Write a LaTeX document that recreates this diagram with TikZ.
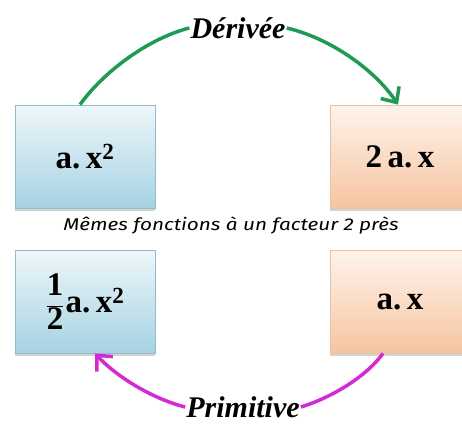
\documentclass[tikz,border=0pt]{standalone}
\usepackage{fontspec}
\setmainfont{Liberation Serif}
\newfontfamily\notefont{Fira Sans}
\usetikzlibrary{positioning,arrows.meta,shadows}

\definecolor{derivgreen}{HTML}{1E9A55}
\definecolor{primmag}{HTML}{D42AD4}
\definecolor{bluetop}{HTML}{EEF7FA}
\definecolor{bluebot}{HTML}{A6D2E2}
\definecolor{blueedge}{HTML}{8FBCCC}
\definecolor{orangetop}{HTML}{FEF4EC}
\definecolor{orangebot}{HTML}{F6C4A0}
\definecolor{orangeedge}{HTML}{E9C3A6}

\begin{document}
\begin{tikzpicture}[
  x=1pt, y=-1pt,
  fbox/.style={draw,line width=0.8pt,minimum width=140pt,minimum height=103pt,
    font=\fontsize{33}{36}\selectfont\bfseries,
    drop shadow={shadow xshift=0pt,shadow yshift=-3pt,opacity=0.35,fill=gray}},
  bluebox/.style={fbox,draw=blueedge,top color=bluetop,bottom color=bluebot},
  orangebox/.style={fbox,draw=orangeedge,top color=orangetop,bottom color=orangebot},
  arclabel/.style={font=\fontsize{30}{32}\selectfont\bfseries\itshape,inner sep=1pt},
  deriv/.style={draw=derivgreen,line width=3.5pt},
  prim/.style={draw=primmag,line width=3.5pt},
  >={Straight Barb[length=12pt,width=22pt,line width=3.5pt]}
]
  \useasboundingbox (0,0) rectangle (462,423);
  \clip (0,0) rectangle (462,423);
  % the four boxes
  \node[bluebox]   (ax2)     at (85,156.5)  {a.\,x$^{\mathbf{2}}$};
  \node[orangebox] (twoax)   at (400,156.5) {2\,a.\,x};
  \node[bluebox]   (halfax2) at (85,301.5)
    {$\displaystyle\mathbf{\frac{1}{2}}$\kern1pt a.\,x$^{\mathbf{2}}$};
  \node[orangebox] (ax)      at (400,301.5) {a.\,x};
  \node[font=\notefont\itshape\fontsize{17}{19}\selectfont] (note) at (231,226)
    {\scalebox{1.22}[1]{Mêmes fonctions à un facteur 2 près}};
  % arcs
  \node[arclabel] (der) at (238,28) {Dérivée};
  \node[arclabel] (pri) at (243,407) {Primitive};
  \draw[deriv] ([xshift=-5pt]ax2.north) .. controls (105,70) and (150,38) .. (der.west);
  \draw[deriv,->] (der.east) .. controls (330,38) and (375,70) .. ([xshift=-2pt]twoax.north);
  \draw[prim] ([xshift=-17pt]ax.south) .. controls (365,378) and (330,398) .. (pri.east);
  \draw[prim,->] (pri.west) .. controls (150,398) and (115,375) .. ([xshift=10pt]halfax2.south);
\end{tikzpicture}
\end{document}
